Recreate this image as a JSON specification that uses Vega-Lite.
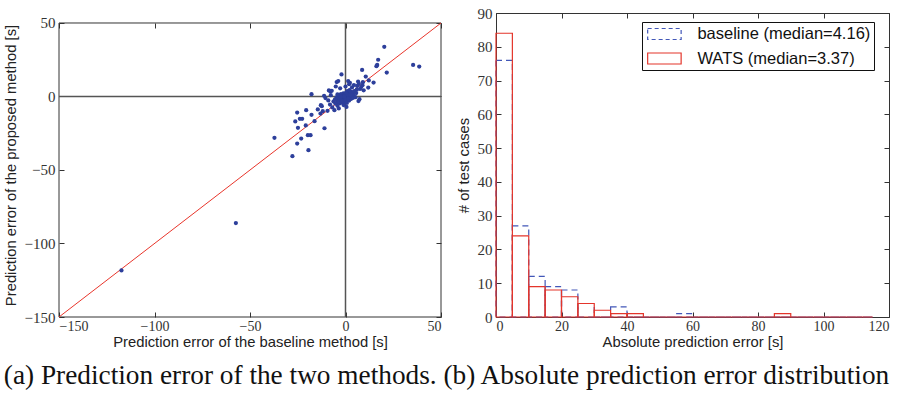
{
  "$schema": "https://vega.github.io/schema/vega-lite/v6.json",
  "background": "white",
  "padding": {"left": 3, "top": 5, "right": 5, "bottom": 0},
  "spacing": 12,
  "config": {
    "view": {"stroke": "#333", "strokeWidth": 1},
    "axis": {
      "labelFont": "Liberation Serif", "labelFontSize": 15, "labelColor": "#333",
      "titleFont": "Liberation Sans", "titleFontSize": 14.8, "titleFontWeight": "normal", "titleColor": "#222",
      "tickSize": -5, "tickColor": "#333", "domain": false, "grid": false, "labelPadding": 9
    },
    "legend": {
      "orient": "none", "legendX": 583, "legendY": 9,
      "strokeColor": "#111", "fillColor": "white", "padding": 3,
      "labelFont": "Liberation Sans", "labelFontSize": 16.5, "labelColor": "#111", "labelLimit": 400,
      "symbolType": "M-2,-0.66H2V0.66H-2Z", "symbolSize": 280, "symbolStrokeWidth": 1.2,
      "symbolOffset": 10.4, "labelOffset": 24, "rowPadding": 6.5
    }
  },
  "title": {
    "text": "(a) Prediction error of the two methods. (b) Absolute prediction error distribution",
    "orient": "bottom", "anchor": "middle", "font": "Liberation Serif", "fontSize": 27.3,
    "fontWeight": "normal", "offset": 13, "color": "#111"
  },
  "datasets": {
    "pts": [
      {"b":20.3,"p":33.8},{"b":17.1,"p":25.0},{"b":16.2,"p":20.6},{"b":16.6,"p":21.5},{"b":21.6,"p":16.3},
      {"b":35.4,"p":21.5},{"b":38.6,"p":20.4},{"b":8.7,"p":18.1},{"b":10.6,"p":13.6},{"b":12.2,"p":10.9},
      {"b":14.7,"p":9.5},{"b":11.9,"p":6.1},{"b":-2.1,"p":15.0},{"b":-4.6,"p":9.8},{"b":-3.8,"p":10.5},
      {"b":1.4,"p":10.5},{"b":2.3,"p":9.3},{"b":0,"p":6.8},{"b":-17.8,"p":1.6},{"b":-8.7,"p":4.1},
      {"b":-7.9,"p":3.4},{"b":-10.5,"p":-1.1},{"b":-5.8,"p":-9.3},{"b":-12.4,"p":-6.6},{"b":-14.5,"p":-8.8},
      {"b":-13.1,"p":-11.6},{"b":-11.9,"p":-10.0},{"b":-20.6,"p":-9.3},{"b":-25.3,"p":-10.9},{"b":-17.8,"p":-12.5},
      {"b":-23.9,"p":-15.2},{"b":-22.7,"p":-15.2},{"b":-26.3,"p":-17.0},{"b":-16.2,"p":-16.8},{"b":-24.9,"p":-21.3},
      {"b":-20.8,"p":-19.7},{"b":-11.0,"p":-21.6},{"b":-37.2,"p":-28.1},{"b":-19.7,"p":-26.3},{"b":-18.3,"p":-26.3},
      {"b":-23.2,"p":-28.6},{"b":-25.3,"p":-32.0},{"b":-19.4,"p":-36.5},{"b":-27.8,"p":-40.6},{"b":-57.4,"p":-86.1},
      {"b":-117.3,"p":-118.3},
      {"b":-0.5,"p":0.3},{"b":0.8,"p":-0.6},{"b":-1.2,"p":-1.5},{"b":1.5,"p":0.9},{"b":-2.3,"p":-0.8},
      {"b":0.2,"p":1.8},{"b":-0.9,"p":-2.6},{"b":2.4,"p":-1.1},{"b":-3.1,"p":-2.2},{"b":1.1,"p":2.7},
      {"b":-1.8,"p":0.6},{"b":0.5,"p":-1.9},{"b":-2.7,"p":-3.4},{"b":3.2,"p":0.4},{"b":-0.3,"p":-3.8},
      {"b":2.0,"p":1.5},{"b":-4.1,"p":-1.7},{"b":0.9,"p":3.6},{"b":-1.5,"p":-4.2},{"b":3.8,"p":2.1},
      {"b":-2.0,"p":-1.1},{"b":0.1,"p":-0.2},{"b":-3.6,"p":0.9},{"b":1.9,"p":-2.8},{"b":-0.7,"p":1.2},
      {"b":2.9,"p":3.1},{"b":-4.4,"p":-3.0},{"b":1.3,"p":-0.3},{"b":-1.1,"p":2.2},{"b":-2.9,"p":-4.6},
      {"b":4.2,"p":1.0},{"b":-0.2,"p":-1.0},{"b":0.6,"p":0.7},{"b":-3.3,"p":-2.9},{"b":2.6,"p":-0.1},
      {"b":-1.6,"p":-0.4},{"b":3.5,"p":2.8},{"b":-2.4,"p":1.7},{"b":0.4,"p":-3.1},{"b":-4.7,"p":-0.6},
      {"b":1.7,"p":0.2},{"b":-0.8,"p":-1.9},{"b":2.2,"p":2.4},{"b":-3.8,"p":-4.0},{"b":4.6,"p":3.6},
      {"b":-1.3,"p":0.0},{"b":0.0,"p":-2.3},{"b":-2.2,"p":-2.0},{"b":1.0,"p":1.1},{"b":3.0,"p":-1.6},
      {"b":-0.4,"p":0.8},{"b":-1.9,"p":-3.0},{"b":2.7,"p":0.8},{"b":-3.0,"p":-1.0},{"b":0.3,"p":2.4},
      {"b":4.0,"p":-0.9},{"b":-4.2,"p":1.4},{"b":1.4,"p":-1.4},{"b":-0.6,"p":-0.1},{"b":2.1,"p":4.3},
      {"b":-2.6,"p":-0.2},{"b":0.7,"p":-4.4},
      {"b":-1.0,"p":-5.8},{"b":-4.2,"p":-6.3},{"b":3.4,"p":6.2},{"b":0.5,"p":-7.1},{"b":-2.8,"p":5.6},
      {"b":4.4,"p":7.8},{"b":1.9,"p":8.4},{"b":-3.5,"p":-8.1},
      {"b":5.2,"p":-0.5},{"b":7.3,"p":-1.8},{"b":5.6,"p":2.3},{"b":6.1,"p":7.2},{"b":7.0,"p":8.6},
      {"b":8.2,"p":6.4},{"b":9.1,"p":9.7},{"b":7.6,"p":5.1},{"b":6.6,"p":10.2},{"b":8.9,"p":7.7},
      {"b":5.9,"p":4.6},{"b":9.5,"p":4.2},{"b":-5.1,"p":6.8},{"b":-7.2,"p":3.9},{"b":-9.4,"p":-9.7},
      {"b":-6.3,"p":-3.4},{"b":-8.1,"p":-5.5},{"b":-5.5,"p":-1.9},{"b":-6.9,"p":-7.4},{"b":-9.0,"p":-2.7},
      {"b":-7.7,"p":0.9},{"b":-5.3,"p":-4.8},{"b":6.8,"p":-3.1},
      {"b":-11.2,"p":0.5},{"b":-12.9,"p":-5.9}
    ],
    "diag": [{"b": -150, "p": -150}, {"b": 50, "p": 50}],
    "frame": [
      {"x1": -150, "y1": -150, "x2": 50, "y2": -150},
      {"x1": -150, "y1": 50, "x2": 50, "y2": 50},
      {"x1": -150, "y1": -150, "x2": -150, "y2": 50},
      {"x1": 50, "y1": -150, "x2": 50, "y2": 50}
    ],
    "cross": [
      {"x1": 0, "y1": -150, "x2": 0, "y2": 50},
      {"x1": -150, "y1": 0, "x2": 50, "y2": 0}
    ],
    "hist": [
      {"series":"baseline (median=4.16)","lo":0,"hi":5,"count":76},
      {"series":"baseline (median=4.16)","lo":5,"hi":10,"count":27},
      {"series":"baseline (median=4.16)","lo":10,"hi":15,"count":12},
      {"series":"baseline (median=4.16)","lo":15,"hi":20,"count":9},
      {"series":"baseline (median=4.16)","lo":20,"hi":25,"count":8},
      {"series":"baseline (median=4.16)","lo":25,"hi":30,"count":4},
      {"series":"baseline (median=4.16)","lo":30,"hi":35,"count":0},
      {"series":"baseline (median=4.16)","lo":35,"hi":40,"count":3},
      {"series":"baseline (median=4.16)","lo":40,"hi":45,"count":0},
      {"series":"baseline (median=4.16)","lo":45,"hi":50,"count":0},
      {"series":"baseline (median=4.16)","lo":50,"hi":55,"count":0},
      {"series":"baseline (median=4.16)","lo":55,"hi":60,"count":1},
      {"series":"baseline (median=4.16)","lo":60,"hi":65,"count":0},
      {"series":"baseline (median=4.16)","lo":65,"hi":70,"count":0},
      {"series":"baseline (median=4.16)","lo":70,"hi":75,"count":0},
      {"series":"baseline (median=4.16)","lo":75,"hi":80,"count":0},
      {"series":"baseline (median=4.16)","lo":80,"hi":85,"count":0},
      {"series":"baseline (median=4.16)","lo":85,"hi":90,"count":0},
      {"series":"baseline (median=4.16)","lo":90,"hi":95,"count":0},
      {"series":"baseline (median=4.16)","lo":95,"hi":100,"count":0},
      {"series":"baseline (median=4.16)","lo":100,"hi":105,"count":0},
      {"series":"baseline (median=4.16)","lo":105,"hi":110,"count":0},
      {"series":"baseline (median=4.16)","lo":110,"hi":115,"count":0},
      {"series":"WATS (median=3.37)","lo":0,"hi":5,"count":84},
      {"series":"WATS (median=3.37)","lo":5,"hi":10,"count":24},
      {"series":"WATS (median=3.37)","lo":10,"hi":15,"count":9},
      {"series":"WATS (median=3.37)","lo":15,"hi":20,"count":8},
      {"series":"WATS (median=3.37)","lo":20,"hi":25,"count":6},
      {"series":"WATS (median=3.37)","lo":25,"hi":30,"count":4},
      {"series":"WATS (median=3.37)","lo":30,"hi":35,"count":2},
      {"series":"WATS (median=3.37)","lo":35,"hi":40,"count":1},
      {"series":"WATS (median=3.37)","lo":40,"hi":45,"count":1},
      {"series":"WATS (median=3.37)","lo":45,"hi":50,"count":0},
      {"series":"WATS (median=3.37)","lo":50,"hi":55,"count":0},
      {"series":"WATS (median=3.37)","lo":55,"hi":60,"count":0},
      {"series":"WATS (median=3.37)","lo":60,"hi":65,"count":0},
      {"series":"WATS (median=3.37)","lo":65,"hi":70,"count":0},
      {"series":"WATS (median=3.37)","lo":70,"hi":75,"count":0},
      {"series":"WATS (median=3.37)","lo":75,"hi":80,"count":0},
      {"series":"WATS (median=3.37)","lo":80,"hi":85,"count":0},
      {"series":"WATS (median=3.37)","lo":85,"hi":90,"count":1},
      {"series":"WATS (median=3.37)","lo":90,"hi":95,"count":0},
      {"series":"WATS (median=3.37)","lo":95,"hi":100,"count":0},
      {"series":"WATS (median=3.37)","lo":100,"hi":105,"count":0},
      {"series":"WATS (median=3.37)","lo":105,"hi":110,"count":0},
      {"series":"WATS (median=3.37)","lo":110,"hi":115,"count":0}
    ]
  },
  "hconcat": [
    {
      "width": 382, "height": 304,
      "view": {"stroke": null},
      "resolve": {"axis": {"x": "independent", "y": "independent"}},
      "layer": [
        {
          "data": {"name": "frame"},
          "mark": {"type": "rule", "color": "#333", "strokeWidth": 1},
          "encoding": {
            "x": {"field": "x1", "type": "quantitative", "axis": null, "scale": {"domain": [-150, 50], "nice": false, "zero": false}},
            "x2": {"field": "x2"},
            "y": {"field": "y1", "type": "quantitative", "axis": null, "scale": {"domain": [-150, 56.8027], "nice": false, "zero": false}},
            "y2": {"field": "y2"}
          }
        },
        {
          "data": {"name": "cross"},
          "mark": {"type": "rule", "color": "#555", "strokeWidth": 1.5},
          "encoding": {
            "x": {"field": "x1", "type": "quantitative", "axis": null},
            "x2": {"field": "x2"},
            "y": {"field": "y1", "type": "quantitative", "axis": null},
            "y2": {"field": "y2"}
          }
        },
        {
          "data": {"name": "diag"},
          "mark": {"type": "line", "color": "#e8352b", "strokeWidth": 1},
          "encoding": {
            "x": {"field": "b", "type": "quantitative",
                  "axis": {"orient": "top", "labels": false, "title": null, "offset": -10, "values": [-150, -100, -50, 0, 50]}},
            "y": {"field": "p", "type": "quantitative",
                  "axis": {"orient": "right", "labels": false, "title": null, "values": [-150, -100, -50, 0, 50]}}
          }
        },
        {
          "data": {"name": "pts"},
          "mark": {"type": "circle", "size": 18, "color": "#2d3f9b", "opacity": 1},
          "encoding": {
            "x": {"field": "b", "type": "quantitative",
                  "axis": {"orient": "bottom", "title": "Prediction error of the baseline method [s]", "values": [-150, -100, -50, 0, 50], "labelFontSize": 14, "labelPadding": 7, "titlePadding": 1}},
            "y": {"field": "p", "type": "quantitative",
                  "axis": {"orient": "left", "title": "Prediction error of the proposed method [s]", "values": [-150, -100, -50, 0, 50], "titlePadding": 6}}
          }
        }
      ]
    },
    {
      "width": 393, "height": 304,
      "data": {"name": "hist"},
      "resolve": {"axis": {"x": "independent", "y": "independent"}},
      "layer": [
        {
          "transform": [{"filter": "datum.series === 'baseline (median=4.16)'"}],
          "mark": {"type": "rect", "filled": false, "strokeWidth": 1.2, "strokeDash": [6, 4]},
          "encoding": {
            "x": {"field": "lo", "type": "quantitative", "scale": {"domain": [0, 120], "nice": false},
                  "axis": {"orient": "bottom", "title": "Absolute prediction error [s]", "values": [0, 20, 40, 60, 80, 100, 120], "labelFontSize": 14, "labelPadding": 7, "titlePadding": 1}},
            "x2": {"field": "hi"},
            "y": {"field": "count", "type": "quantitative", "scale": {"domain": [0, 90], "nice": false},
                  "axis": {"orient": "left", "title": "# of test cases", "values": [0, 10, 20, 30, 40, 50, 60, 70, 80, 90], "titlePadding": 6}},
            "y2": {"datum": 0},
            "color": {"field": "series", "type": "nominal",
                      "scale": {"domain": ["baseline (median=4.16)", "WATS (median=3.37)"], "range": ["#4257b8", "#e4352b"]},
                      "legend": {"title": null,
                                 "encode": {"symbols": {"update": {"strokeDash": {"signal": "datum.value === 'baseline (median=4.16)' ? [4, 3] : [1, 0]"}}}}}}
          }
        },
        {
          "transform": [{"filter": "datum.series === 'WATS (median=3.37)'"}],
          "mark": {"type": "rect", "filled": false, "strokeWidth": 1.2},
          "encoding": {
            "x": {"field": "lo", "type": "quantitative", "axis": null},
            "x2": {"field": "hi"},
            "y": {"field": "count", "type": "quantitative", "axis": null},
            "y2": {"datum": 0},
            "color": {"field": "series", "type": "nominal", "legend": {"title": null,
                                 "encode": {"symbols": {"update": {"strokeDash": {"signal": "datum.value === 'baseline (median=4.16)' ? [4, 3] : [1, 0]"}}}}}}
          }
        },
        {
          "mark": {"type": "tick", "opacity": 0},
          "encoding": {
            "x": {"field": "lo", "type": "quantitative",
                  "axis": {"orient": "top", "labels": false, "title": null, "values": [0, 20, 40, 60, 80, 100, 120]}},
            "y": {"field": "count", "type": "quantitative",
                  "axis": {"orient": "right", "labels": false, "title": null, "values": [0, 10, 20, 30, 40, 50, 60, 70, 80, 90]}}
          }
        }
      ]
    }
  ]
}
